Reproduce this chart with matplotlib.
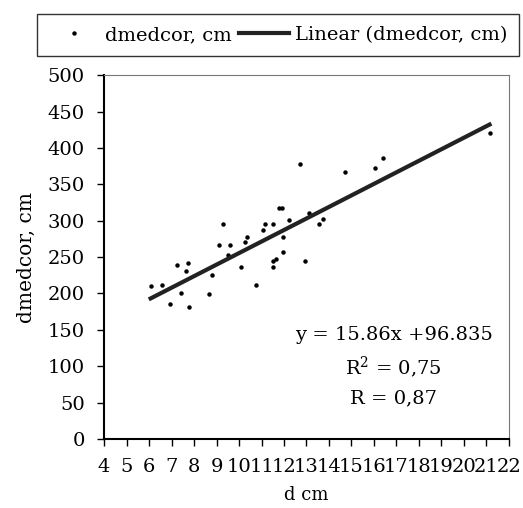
import numpy as np
import matplotlib
matplotlib.use('Agg')
import matplotlib.pyplot as plt

# data
d_cm = [6.07, 6.56, 6.93, 7.25, 7.40, 7.66, 7.75, 7.78, 8.67, 8.82, 9.10, 9.29, 9.59, 9.51,
        10.10, 10.25, 10.35, 10.74, 11.06, 11.14, 11.5, 11.5, 11.5, 11.65, 11.77, 11.92,
        11.95, 11.95, 12.21, 12.69, 12.95, 13.13, 13.54, 13.72, 14.73, 16.06, 16.41, 21.14]
dmedcor = [210, 212, 185, 239, 200, 231, 242, 181, 199, 226, 267, 296, 267, 253,
           236, 271, 277, 212, 287, 296, 296, 244, 236, 248, 317, 317,
           257, 278, 301, 378, 244, 310, 296, 302, 367, 372, 386, 420]
slope = 15.86
intercept = 96.835
eq_lines = ['y = 15.86x +96.835', 'R$^{2}$ = 0,75', 'R = 0,87']
x_ticks = list(range(4, 23))
y_ticks = list(range(0, 501, 50))

plt.rcParams['font.family'] = ['DejaVu Serif']
plt.rcParams['mathtext.fontset'] = 'dejavuserif'

fig = plt.figure(figsize=(5.23, 5.08), dpi=100)
ax = fig.add_axes([0.199, 0.136, 0.774, 0.716])

ax.plot(d_cm, dmedcor, linestyle='none', marker='o', ms=2.2, color='black',
        label='dmedcor, cm')
lx = np.array([min(d_cm), max(d_cm)])
ax.plot(lx, slope * lx + intercept, color='#222222', lw=3, label='Linear (dmedcor, cm)')

ax.set_xlim(4, 22)
ax.set_ylim(0, 500)
ax.set_xticks(x_ticks)
ax.set_yticks(y_ticks)
ax.tick_params(direction='out', length=5, width=1, labelsize=14)
ax.tick_params(axis='x', pad=9)
ax.tick_params(axis='y', pad=9)
ax.spines['left'].set_linewidth(1.5)
ax.spines['bottom'].set_linewidth(1.5)
ax.spines['top'].set_color('#777777')
ax.spines['right'].set_color('#777777')
ax.spines['top'].set_linewidth(0.8)
ax.spines['right'].set_linewidth(0.8)

ax.set_xlabel('d cm', fontsize=13, labelpad=7)
ax.set_ylabel('dmedcor, cm', fontsize=14.5, labelpad=8)

for i, t in enumerate(eq_lines):
    ax.text(0.715, 0.285 - i * 0.087, t, transform=ax.transAxes, ha='center', va='center',
            fontsize=14)

leg = fig.legend(loc='center', bbox_to_anchor=(0.532, 0.931), ncol=2, fontsize=14,
                 frameon=True, fancybox=False, edgecolor='black', handlelength=2.6,
                 handletextpad=0.3, columnspacing=0.35, borderpad=0.6, markerscale=1)
leg.get_frame().set_linewidth(1)

plt.savefig('out.png', dpi=100)
